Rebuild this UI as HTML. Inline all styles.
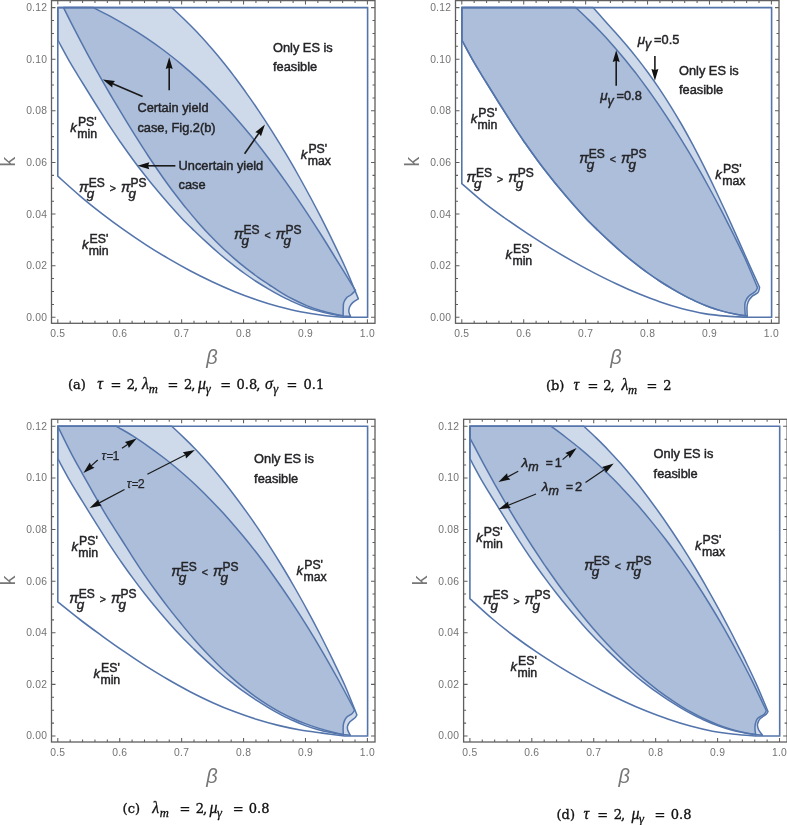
<!DOCTYPE html>
<html><head><meta charset="utf-8"><title>Figure</title><style>
html,body{margin:0;padding:0;background:#fff}
svg{display:block}
text{font-family:"Liberation Sans",sans-serif}
.tk{font-size:10.3px;fill:#737373;letter-spacing:0.25px}
.ax{fill:#777}
.lb{font-size:12.8px;fill:#242428;stroke:#242428;stroke-width:0.45px}
.sc{font-size:12.3px}
.cap{font-family:"DejaVu Serif","Liberation Serif",serif;font-size:13px;fill:#111;stroke:#111;stroke-width:0.35px}
.capi{font-family:"Liberation Serif",serif;font-style:italic;font-size:16px;fill:#111;stroke:#111;stroke-width:0.3px}
.rg{fill:#5e81b5;fill-opacity:0.3;stroke:#5475ac;stroke-width:1.5;stroke-linejoin:round}
.ol{fill:none;stroke:#5475ac;stroke-width:1.6;stroke-linejoin:miter}
</style></head>
<body><svg width="787" height="825" viewBox="0 0 787 825">
<rect width="787" height="825" fill="#fff"/>
<g><path d="M171.8,7.6 C173.9,9.6 180.1,15.3 184.2,19.3 C188.4,23.4 192.5,27.5 196.7,31.8 C200.8,36.2 205.0,40.7 209.1,45.5 C213.3,50.2 217.4,55.1 221.6,60.2 C225.7,65.4 229.9,70.6 234.0,76.1 C238.1,81.6 242.3,87.2 246.4,93.1 C250.6,98.9 254.7,104.9 258.9,111.1 C263.0,117.2 267.2,123.6 271.3,130.1 C275.5,136.7 279.6,143.4 283.8,150.3 C287.9,157.2 292.1,164.2 296.2,171.5 C300.3,178.8 304.5,186.3 308.6,194.0 C312.8,201.6 316.9,209.5 321.1,217.6 C325.2,225.7 329.4,234.0 333.5,242.6 C337.7,251.2 341.8,259.6 346.0,269.0 C350.1,278.4 356.3,293.8 358.4,298.8 C357.4,299.4 354.2,301.2 352.7,302.6 C351.2,304.0 350.2,305.4 349.6,307.0 C349.0,308.6 348.7,310.4 348.9,312.0 C349.1,313.6 350.3,315.8 350.6,316.5 L343.2,315.9 C341.1,315.6 334.9,314.7 330.8,313.9 C326.7,313.1 322.5,312.2 318.4,311.1 C314.2,310.0 310.1,308.7 306.0,307.2 C301.8,305.7 297.7,304.0 293.6,302.1 C289.4,300.3 285.3,298.2 281.2,296.1 C277.0,293.9 272.9,291.6 268.7,289.1 C264.6,286.7 260.5,284.2 256.3,281.5 C252.2,278.8 248.1,276.0 243.9,273.0 C239.8,270.1 235.7,266.9 231.5,263.7 C227.4,260.5 223.2,257.1 219.1,253.5 C215.0,250.0 210.8,246.2 206.7,242.4 C202.6,238.6 198.4,234.7 194.3,230.7 C190.2,226.7 186.0,222.7 181.9,218.4 C177.8,214.0 173.6,209.4 169.5,204.7 C165.3,200.1 161.2,195.2 157.1,190.3 C152.9,185.3 148.8,180.3 144.7,175.0 C140.5,169.7 136.4,164.4 132.3,158.7 C128.1,153.1 124.0,147.2 119.8,141.2 C115.7,135.2 111.6,129.0 107.4,122.6 C103.3,116.2 99.2,109.6 95.0,103.0 C90.9,96.4 86.8,89.8 82.6,83.0 C78.5,76.3 74.3,69.8 70.2,62.7 C66.1,55.5 59.9,43.8 57.8,40.0 L57.8,7.6 Z" class="rg"/>
<path d="M93.4,7.6 C96.3,9.1 105.0,13.5 110.9,16.6 C116.7,19.8 122.5,23.1 128.3,26.7 C134.2,30.2 140.0,33.8 145.8,37.7 C151.6,41.6 157.5,45.7 163.3,50.0 C169.1,54.4 174.9,58.9 180.8,63.8 C186.6,68.6 192.4,73.7 198.2,79.1 C204.1,84.5 209.9,90.2 215.7,96.2 C221.5,102.1 227.4,108.4 233.2,114.9 C239.0,121.5 244.8,128.3 250.7,135.4 C256.5,142.6 262.3,150.0 268.1,157.7 C274.0,165.4 279.8,173.4 285.6,181.6 C291.4,189.8 297.3,198.3 303.1,207.1 C308.9,215.8 314.7,224.8 320.6,234.0 C326.4,243.1 332.2,252.7 338.0,262.1 C343.9,271.5 352.6,285.8 355.5,290.5 C354.7,291.2 352.3,293.8 350.8,295.0 C349.3,296.2 347.6,296.6 346.4,298.0 C345.2,299.4 344.1,301.1 343.6,303.2 C343.1,305.3 343.3,308.7 343.2,310.8 C343.1,312.9 343.2,315.1 343.2,316.0 L343.2,316.0 C341.2,315.5 335.1,314.3 331.0,313.3 C327.0,312.3 322.9,311.3 318.9,310.0 C314.8,308.7 310.8,307.2 306.7,305.6 C302.7,303.9 298.6,302.1 294.6,300.0 C290.5,298.0 286.4,295.8 282.4,293.3 C278.3,290.9 274.3,288.2 270.2,285.5 C266.2,282.8 262.1,280.2 258.1,277.3 C254.0,274.4 250.0,271.4 245.9,268.2 C241.9,265.0 237.8,261.6 233.8,258.1 C229.7,254.5 225.6,250.9 221.6,247.0 C217.5,243.1 213.5,239.1 209.4,234.8 C205.4,230.5 201.3,226.1 197.3,221.4 C193.2,216.8 189.2,211.9 185.1,206.9 C181.1,201.9 177.0,196.7 172.9,191.3 C168.9,185.9 164.8,180.3 160.8,174.5 C156.7,168.7 152.7,162.7 148.6,156.5 C144.6,150.4 140.5,144.1 136.5,137.7 C132.4,131.3 128.4,124.6 124.3,117.9 C120.3,111.3 116.2,104.5 112.1,97.6 C108.1,90.7 104.0,83.7 100.0,76.6 C95.9,69.4 91.9,62.1 87.8,54.6 C83.8,47.1 79.7,39.4 75.7,31.6 C71.6,23.8 65.5,11.6 63.5,7.6 Z" class="rg"/>
<path d="M57.8,7.6 H367.59999999999997 V317.3 L344.5,317.3 C340.8,317.0 329.8,316.2 322.4,315.2 C315.1,314.3 307.7,313.2 300.4,311.7 C293.0,310.3 285.7,308.5 278.3,306.5 C271.0,304.5 263.6,302.2 256.3,299.7 C248.9,297.1 241.6,294.4 234.2,291.4 C226.9,288.4 219.5,285.1 212.2,281.7 C204.8,278.2 197.5,274.6 190.1,270.7 C182.8,266.8 175.4,262.7 168.1,258.4 C160.7,254.1 153.4,249.6 146.0,244.8 C138.7,240.1 131.3,235.1 124.0,229.9 C116.6,224.7 109.3,219.3 101.9,213.6 C94.6,207.9 87.2,202.1 79.9,195.8 C72.5,189.6 61.5,179.5 57.8,176.2 Z" class="ol"/>
<rect x="51.5" y="0.6" width="323.5" height="322.7" fill="none" stroke="#5f5f5f" stroke-width="1.3"/>
<path d="M57.80,323.3v-4.0M57.80,0.6v4.0M70.18,323.3v-2.5M70.18,0.6v2.5M82.57,323.3v-2.5M82.57,0.6v2.5M94.95,323.3v-2.5M94.95,0.6v2.5M107.34,323.3v-2.5M107.34,0.6v2.5M119.72,323.3v-4.0M119.72,0.6v4.0M132.10,323.3v-2.5M132.10,0.6v2.5M144.49,323.3v-2.5M144.49,0.6v2.5M156.87,323.3v-2.5M156.87,0.6v2.5M169.26,323.3v-2.5M169.26,0.6v2.5M181.64,323.3v-4.0M181.64,0.6v4.0M194.02,323.3v-2.5M194.02,0.6v2.5M206.41,323.3v-2.5M206.41,0.6v2.5M218.79,323.3v-2.5M218.79,0.6v2.5M231.18,323.3v-2.5M231.18,0.6v2.5M243.56,323.3v-4.0M243.56,0.6v4.0M255.94,323.3v-2.5M255.94,0.6v2.5M268.33,323.3v-2.5M268.33,0.6v2.5M280.71,323.3v-2.5M280.71,0.6v2.5M293.10,323.3v-2.5M293.10,0.6v2.5M305.48,323.3v-4.0M305.48,0.6v4.0M317.86,323.3v-2.5M317.86,0.6v2.5M330.25,323.3v-2.5M330.25,0.6v2.5M342.63,323.3v-2.5M342.63,0.6v2.5M355.02,323.3v-2.5M355.02,0.6v2.5M367.40,323.3v-4.0M367.40,0.6v4.0M51.5,7.60h4.0M375.0,7.60h-4.0M51.5,20.50h2.5M375.0,20.50h-2.5M51.5,33.41h2.5M375.0,33.41h-2.5M51.5,46.31h2.5M375.0,46.31h-2.5M51.5,59.22h4.0M375.0,59.22h-4.0M51.5,72.12h2.5M375.0,72.12h-2.5M51.5,85.02h2.5M375.0,85.02h-2.5M51.5,97.93h2.5M375.0,97.93h-2.5M51.5,110.83h4.0M375.0,110.83h-4.0M51.5,123.74h2.5M375.0,123.74h-2.5M51.5,136.64h2.5M375.0,136.64h-2.5M51.5,149.55h2.5M375.0,149.55h-2.5M51.5,162.45h4.0M375.0,162.45h-4.0M51.5,175.35h2.5M375.0,175.35h-2.5M51.5,188.26h2.5M375.0,188.26h-2.5M51.5,201.16h2.5M375.0,201.16h-2.5M51.5,214.07h4.0M375.0,214.07h-4.0M51.5,226.97h2.5M375.0,226.97h-2.5M51.5,239.88h2.5M375.0,239.88h-2.5M51.5,252.78h2.5M375.0,252.78h-2.5M51.5,265.68h4.0M375.0,265.68h-4.0M51.5,278.59h2.5M375.0,278.59h-2.5M51.5,291.49h2.5M375.0,291.49h-2.5M51.5,304.40h2.5M375.0,304.40h-2.5M51.5,317.30h4.0M375.0,317.30h-4.0" stroke="#5f5f5f" stroke-width="1.05" fill="none"/>
<text x="57.8" y="336.90000000000003" class="tk" text-anchor="middle">0.5</text>
<text x="119.7" y="336.90000000000003" class="tk" text-anchor="middle">0.6</text>
<text x="181.6" y="336.90000000000003" class="tk" text-anchor="middle">0.7</text>
<text x="243.6" y="336.90000000000003" class="tk" text-anchor="middle">0.8</text>
<text x="305.5" y="336.90000000000003" class="tk" text-anchor="middle">0.9</text>
<text x="367.4" y="336.90000000000003" class="tk" text-anchor="middle">1.0</text>
<text x="47.2" y="320.8" class="tk" text-anchor="end">0.00</text>
<text x="47.2" y="269.2" class="tk" text-anchor="end">0.02</text>
<text x="47.2" y="217.6" class="tk" text-anchor="end">0.04</text>
<text x="47.2" y="166.0" class="tk" text-anchor="end">0.06</text>
<text x="47.2" y="114.3" class="tk" text-anchor="end">0.08</text>
<text x="47.2" y="62.7" class="tk" text-anchor="end">0.10</text>
<text x="47.2" y="11.1" class="tk" text-anchor="end">0.12</text>
<text transform="translate(14.9,161.7) rotate(-90)" class="ax" text-anchor="middle" style="font-size:19.5px">k</text>
<text x="212" y="364.4" class="ax" text-anchor="middle" style="font-size:20px" font-style="italic">β</text>
<text x="273" y="51.6" class="lb" >Only ES is</text><text x="273" y="71" class="lb" >feasible</text>
<text x="137.4" y="112.3" class="lb" >Certain yield</text><text x="137.4" y="131.5" class="lb" >case, Fig.2(b)</text>
<text x="178.6" y="169.5" class="lb" >Uncertain yield</text><text x="178.6" y="189.1" class="lb" >case</text>
<text x="70.3" y="131.7" class="lb" font-style="italic" style="font-size:13px">k</text><text x="77.9" y="125.6" class="lb sc">PS'</text><text x="77.2" y="137.6" class="lb sc">min</text>
<text x="81.9" y="248.9" class="lb" font-style="italic" style="font-size:13px">k</text><text x="89.5" y="242.8" class="lb sc">ES'</text><text x="88.8" y="254.8" class="lb sc">min</text>
<text x="300.8" y="159.3" class="lb" font-style="italic" style="font-size:13px">k</text><text x="308.4" y="153.2" class="lb sc">PS'</text><text x="307.7" y="165.2" class="lb sc">max</text>
<text x="79.1" y="191.9" class="lb" font-style="italic" style="font-size:14px">π</text><text x="88.7" y="186.9" class="lb" style="font-size:12px">ES</text><text x="86.7" y="197.9" class="lb" font-style="italic" style="font-size:13.5px">g</text><text x="109.7" y="192.1" class="lb" style="font-size:10.5px">&gt;</text><text x="120.89999999999999" y="191.9" class="lb" font-style="italic" style="font-size:14px">π</text><text x="130.5" y="186.9" class="lb" style="font-size:12px">PS</text><text x="128.5" y="197.9" class="lb" font-style="italic" style="font-size:13.5px">g</text>
<text x="234" y="238.6" class="lb" font-style="italic" style="font-size:14px">π</text><text x="243.6" y="233.6" class="lb" style="font-size:12px">ES</text><text x="241.6" y="244.6" class="lb" font-style="italic" style="font-size:13.5px">g</text><text x="264.6" y="238.8" class="lb" style="font-size:10.5px">&lt;</text><text x="275.8" y="238.6" class="lb" font-style="italic" style="font-size:14px">π</text><text x="285.4" y="233.6" class="lb" style="font-size:12px">PS</text><text x="283.4" y="244.6" class="lb" font-style="italic" style="font-size:13.5px">g</text>
<line x1="169.2" y1="90.2" x2="169.2" y2="65.5" stroke="#1a1a1a" stroke-width="1.6"/><path d="M169.2,57.2 L172.7,69.0 L169.2,67.8 L165.7,69.0 Z" fill="#111"/>
<line x1="142.6" y1="96.5" x2="110.4" y2="82.7" stroke="#1a1a1a" stroke-width="1.6"/><path d="M102.8,79.5 L115.0,80.9 L112.6,83.7 L112.3,87.4 Z" fill="#111"/>
<line x1="175.4" y1="165.8" x2="145.8" y2="165.8" stroke="#1a1a1a" stroke-width="1.6"/><path d="M137.5,165.8 L149.3,162.3 L148.1,165.8 L149.3,169.3 Z" fill="#111"/>
<line x1="244.6" y1="153.7" x2="260.2" y2="131.3" stroke="#1a1a1a" stroke-width="1.6"/><path d="M264.9,124.5 L261.0,136.2 L258.8,133.2 L255.3,132.2 Z" fill="#111"/>
<text x="67.9" y="389.2" class="cap">(a)</text><text x="97.2" y="389.2" class="capi">τ</text><text x="110.6" y="389.2" class="cap">=</text><text x="126.8" y="389.2" class="cap">2</text><text x="134.1" y="389.2" class="cap">,</text><text x="141.9" y="389.2" class="capi">λ</text><text x="148.7" y="392.8" class="capi" style="font-size:12.6px">m</text><text x="167.5" y="389.2" class="cap">=</text><text x="183.9" y="389.2" class="cap">2</text><text x="191.2" y="389.2" class="cap">,</text><text x="198.0" y="389.2" class="capi">μ</text><text x="205.7" y="392.8" class="capi" style="font-size:12.6px">γ</text><text x="220.3" y="389.2" class="cap">=</text><text x="236.5" y="389.2" class="cap">0.8</text><text x="256.2" y="389.2" class="cap">,</text><text x="265.0" y="389.2" class="capi">σ</text><text x="273.2" y="392.8" class="capi" style="font-size:12.6px">γ</text><text x="286.4" y="389.2" class="cap">=</text><text x="303.5" y="389.2" class="cap">0.1</text></g>
<g transform="translate(404,0)"><path d="M189.0,7.6 C190.9,9.7 196.4,15.8 200.1,19.9 C203.8,24.0 207.5,28.1 211.2,32.3 C214.9,36.5 218.6,40.7 222.3,45.1 C226.0,49.5 229.7,54.0 233.4,58.6 C237.1,63.3 240.8,68.2 244.5,73.2 C248.2,78.3 251.9,83.6 255.6,89.1 C259.3,94.6 263.0,100.3 266.7,106.3 C270.4,112.3 274.2,118.6 277.9,125.0 C281.6,131.5 285.3,138.2 289.0,145.2 C292.7,152.1 296.4,159.3 300.1,166.7 C303.8,174.1 307.5,181.8 311.2,189.5 C314.9,197.3 318.6,205.3 322.3,213.3 C326.0,221.4 329.7,229.7 333.4,237.9 C337.1,246.2 340.8,254.7 344.5,262.9 C348.2,271.1 353.7,283.2 355.6,287.3 C355.3,288.2 355.3,291.1 354.0,292.6 C352.7,294.1 349.6,294.8 348.0,296.4 C346.4,298.0 344.9,300.1 344.1,302.0 C343.3,303.9 343.1,305.1 343.0,307.5 C342.9,309.9 343.2,314.8 343.3,316.3 L343.2,315.9 C341.1,315.6 334.9,314.7 330.8,313.9 C326.7,313.1 322.5,312.2 318.4,311.1 C314.2,310.0 310.1,308.7 306.0,307.2 C301.8,305.7 297.7,304.0 293.6,302.1 C289.4,300.3 285.3,298.2 281.2,296.1 C277.0,293.9 272.9,291.6 268.7,289.1 C264.6,286.7 260.5,284.2 256.3,281.5 C252.2,278.8 248.1,276.0 243.9,273.0 C239.8,270.1 235.7,266.9 231.5,263.7 C227.4,260.5 223.2,257.1 219.1,253.5 C215.0,250.0 210.8,246.2 206.7,242.4 C202.6,238.6 198.4,234.7 194.3,230.7 C190.2,226.7 186.0,222.7 181.9,218.4 C177.8,214.0 173.6,209.4 169.5,204.7 C165.3,200.1 161.2,195.2 157.1,190.3 C152.9,185.3 148.8,180.3 144.7,175.0 C140.5,169.7 136.4,164.4 132.3,158.7 C128.1,153.1 124.0,147.2 119.8,141.2 C115.7,135.2 111.6,129.0 107.4,122.6 C103.3,116.2 99.2,109.6 95.0,103.0 C90.9,96.4 86.8,89.8 82.6,83.0 C78.5,76.3 74.3,69.8 70.2,62.7 C66.1,55.5 59.9,43.8 57.8,40.0 L57.8,7.6 Z" class="rg"/>
<path d="M171.8,7.6 C173.8,9.5 179.9,15.1 183.9,19.1 C188.0,23.0 192.0,27.0 196.0,31.2 C200.1,35.4 204.1,39.8 208.1,44.4 C212.2,49.0 216.2,53.7 220.3,58.7 C224.3,63.6 228.3,68.7 232.4,73.9 C236.4,79.2 240.4,84.6 244.5,90.2 C248.5,95.9 252.6,101.6 256.6,107.6 C260.6,113.5 264.7,119.7 268.7,126.0 C272.7,132.3 276.8,138.7 280.8,145.4 C284.9,152.0 288.9,158.9 292.9,165.9 C297.0,172.9 301.0,180.1 305.0,187.5 C309.1,194.9 313.1,202.4 317.2,210.2 C321.2,218.0 325.2,225.9 329.3,234.1 C333.3,242.2 337.3,250.2 341.4,259.2 C345.4,268.1 351.5,282.9 353.5,287.6 C353.1,288.2 352.8,290.0 351.3,291.5 C349.8,293.0 346.3,294.6 344.6,296.4 C342.9,298.1 341.9,300.1 341.3,302.0 C340.7,303.9 340.8,305.2 340.8,307.5 C340.8,309.8 341.2,314.4 341.3,315.8 L343.2,315.9 C341.1,315.6 334.9,314.7 330.8,313.9 C326.7,313.1 322.5,312.2 318.4,311.1 C314.2,310.0 310.1,308.7 306.0,307.2 C301.8,305.7 297.7,304.0 293.6,302.1 C289.4,300.3 285.3,298.2 281.2,296.1 C277.0,293.9 272.9,291.6 268.7,289.1 C264.6,286.7 260.5,284.2 256.3,281.5 C252.2,278.8 248.1,276.0 243.9,273.0 C239.8,270.1 235.7,266.9 231.5,263.7 C227.4,260.5 223.2,257.1 219.1,253.5 C215.0,250.0 210.8,246.2 206.7,242.4 C202.6,238.6 198.4,234.7 194.3,230.7 C190.2,226.7 186.0,222.7 181.9,218.4 C177.8,214.0 173.6,209.4 169.5,204.7 C165.3,200.1 161.2,195.2 157.1,190.3 C152.9,185.3 148.8,180.3 144.7,175.0 C140.5,169.7 136.4,164.4 132.3,158.7 C128.1,153.1 124.0,147.2 119.8,141.2 C115.7,135.2 111.6,129.0 107.4,122.6 C103.3,116.2 99.2,109.6 95.0,103.0 C90.9,96.4 86.8,89.8 82.6,83.0 C78.5,76.3 74.3,69.8 70.2,62.7 C66.1,55.5 59.9,43.8 57.8,40.0 L57.8,7.6 Z" class="rg"/>
<path d="M57.8,7.6 H367.59999999999997 V317.3 L344.5,317.3 C340.8,317.1 329.8,316.7 322.4,316.1 C315.1,315.5 307.7,314.8 300.4,313.6 C293.0,312.4 285.7,310.7 278.3,308.8 C271.0,306.8 263.6,304.5 256.3,302.0 C248.9,299.5 241.6,296.6 234.2,293.6 C226.9,290.6 219.5,287.3 212.2,283.8 C204.8,280.4 197.5,276.7 190.1,272.9 C182.8,269.1 175.4,265.1 168.1,260.9 C160.7,256.7 153.4,252.4 146.0,247.9 C138.7,243.4 131.3,238.7 124.0,233.9 C116.6,229.0 109.3,224.0 101.9,218.8 C94.6,213.6 87.2,208.4 79.9,202.6 C72.5,196.7 61.5,186.8 57.8,183.6 Z" class="ol"/>
<rect x="51.5" y="0.6" width="323.5" height="322.7" fill="none" stroke="#5f5f5f" stroke-width="1.3"/>
<path d="M57.80,323.3v-4.0M57.80,0.6v4.0M70.18,323.3v-2.5M70.18,0.6v2.5M82.57,323.3v-2.5M82.57,0.6v2.5M94.95,323.3v-2.5M94.95,0.6v2.5M107.34,323.3v-2.5M107.34,0.6v2.5M119.72,323.3v-4.0M119.72,0.6v4.0M132.10,323.3v-2.5M132.10,0.6v2.5M144.49,323.3v-2.5M144.49,0.6v2.5M156.87,323.3v-2.5M156.87,0.6v2.5M169.26,323.3v-2.5M169.26,0.6v2.5M181.64,323.3v-4.0M181.64,0.6v4.0M194.02,323.3v-2.5M194.02,0.6v2.5M206.41,323.3v-2.5M206.41,0.6v2.5M218.79,323.3v-2.5M218.79,0.6v2.5M231.18,323.3v-2.5M231.18,0.6v2.5M243.56,323.3v-4.0M243.56,0.6v4.0M255.94,323.3v-2.5M255.94,0.6v2.5M268.33,323.3v-2.5M268.33,0.6v2.5M280.71,323.3v-2.5M280.71,0.6v2.5M293.10,323.3v-2.5M293.10,0.6v2.5M305.48,323.3v-4.0M305.48,0.6v4.0M317.86,323.3v-2.5M317.86,0.6v2.5M330.25,323.3v-2.5M330.25,0.6v2.5M342.63,323.3v-2.5M342.63,0.6v2.5M355.02,323.3v-2.5M355.02,0.6v2.5M367.40,323.3v-4.0M367.40,0.6v4.0M51.5,7.60h4.0M375.0,7.60h-4.0M51.5,20.50h2.5M375.0,20.50h-2.5M51.5,33.41h2.5M375.0,33.41h-2.5M51.5,46.31h2.5M375.0,46.31h-2.5M51.5,59.22h4.0M375.0,59.22h-4.0M51.5,72.12h2.5M375.0,72.12h-2.5M51.5,85.02h2.5M375.0,85.02h-2.5M51.5,97.93h2.5M375.0,97.93h-2.5M51.5,110.83h4.0M375.0,110.83h-4.0M51.5,123.74h2.5M375.0,123.74h-2.5M51.5,136.64h2.5M375.0,136.64h-2.5M51.5,149.55h2.5M375.0,149.55h-2.5M51.5,162.45h4.0M375.0,162.45h-4.0M51.5,175.35h2.5M375.0,175.35h-2.5M51.5,188.26h2.5M375.0,188.26h-2.5M51.5,201.16h2.5M375.0,201.16h-2.5M51.5,214.07h4.0M375.0,214.07h-4.0M51.5,226.97h2.5M375.0,226.97h-2.5M51.5,239.88h2.5M375.0,239.88h-2.5M51.5,252.78h2.5M375.0,252.78h-2.5M51.5,265.68h4.0M375.0,265.68h-4.0M51.5,278.59h2.5M375.0,278.59h-2.5M51.5,291.49h2.5M375.0,291.49h-2.5M51.5,304.40h2.5M375.0,304.40h-2.5M51.5,317.30h4.0M375.0,317.30h-4.0" stroke="#5f5f5f" stroke-width="1.05" fill="none"/>
<text x="57.8" y="336.90000000000003" class="tk" text-anchor="middle">0.5</text>
<text x="119.7" y="336.90000000000003" class="tk" text-anchor="middle">0.6</text>
<text x="181.6" y="336.90000000000003" class="tk" text-anchor="middle">0.7</text>
<text x="243.6" y="336.90000000000003" class="tk" text-anchor="middle">0.8</text>
<text x="305.5" y="336.90000000000003" class="tk" text-anchor="middle">0.9</text>
<text x="367.4" y="336.90000000000003" class="tk" text-anchor="middle">1.0</text>
<text x="47.2" y="320.8" class="tk" text-anchor="end">0.00</text>
<text x="47.2" y="269.2" class="tk" text-anchor="end">0.02</text>
<text x="47.2" y="217.6" class="tk" text-anchor="end">0.04</text>
<text x="47.2" y="166.0" class="tk" text-anchor="end">0.06</text>
<text x="47.2" y="114.3" class="tk" text-anchor="end">0.08</text>
<text x="47.2" y="62.7" class="tk" text-anchor="end">0.10</text>
<text x="47.2" y="11.1" class="tk" text-anchor="end">0.12</text>
<text transform="translate(14.9,161.7) rotate(-90)" class="ax" text-anchor="middle" style="font-size:19.5px">k</text>
<text x="212" y="364.4" class="ax" text-anchor="middle" style="font-size:20px" font-style="italic">β</text>
<text x="275" y="74.5" class="lb" >Only ES is</text><text x="275" y="94" class="lb" >feasible</text>
<text x="66.7" y="122.9" class="lb" font-style="italic" style="font-size:13px">k</text><text x="74.3" y="116.8" class="lb sc">PS'</text><text x="73.6" y="128.8" class="lb sc">min</text>
<text x="101.5" y="259.2" class="lb" font-style="italic" style="font-size:13px">k</text><text x="109.1" y="253.1" class="lb sc">ES'</text><text x="108.4" y="265.1" class="lb sc">min</text>
<text x="311.3" y="179.2" class="lb" font-style="italic" style="font-size:13px">k</text><text x="318.9" y="173.1" class="lb sc">PS'</text><text x="318.2" y="185.1" class="lb sc">max</text>
<text x="62.4" y="182.3" class="lb" font-style="italic" style="font-size:14px">π</text><text x="72.0" y="177.3" class="lb" style="font-size:12px">ES</text><text x="70.0" y="188.3" class="lb" font-style="italic" style="font-size:13.5px">g</text><text x="93.0" y="182.5" class="lb" style="font-size:10.5px">&gt;</text><text x="104.19999999999999" y="182.3" class="lb" font-style="italic" style="font-size:14px">π</text><text x="113.8" y="177.3" class="lb" style="font-size:12px">PS</text><text x="111.8" y="188.3" class="lb" font-style="italic" style="font-size:13.5px">g</text>
<text x="175.2" y="162.6" class="lb" font-style="italic" style="font-size:14px">π</text><text x="184.8" y="157.6" class="lb" style="font-size:12px">ES</text><text x="182.8" y="168.6" class="lb" font-style="italic" style="font-size:13.5px">g</text><text x="205.8" y="162.8" class="lb" style="font-size:10.5px">&lt;</text><text x="217.0" y="162.6" class="lb" font-style="italic" style="font-size:14px">π</text><text x="226.6" y="157.6" class="lb" style="font-size:12px">PS</text><text x="224.6" y="168.6" class="lb" font-style="italic" style="font-size:13.5px">g</text>
<text x="233.8" y="43.7" class="lb" font-style="italic" style="font-size:13.5px">μ</text><text x="241.1" y="47.9" class="lb" font-style="italic" style="font-size:12.5px">γ</text><text x="250.1" y="43.7" class="lb">=0.5</text>
<text x="196.2" y="100.4" class="lb" font-style="italic" style="font-size:13.5px">μ</text><text x="203.5" y="104.6" class="lb" font-style="italic" style="font-size:12.5px">γ</text><text x="212.5" y="100.4" class="lb">=0.8</text>
<line x1="212.2" y1="85.8" x2="212.2" y2="58.5" stroke="#1a1a1a" stroke-width="1.6"/><path d="M212.2,50.2 L215.7,62.0 L212.2,60.8 L208.7,62.0 Z" fill="#111"/>
<line x1="250.9" y1="55.9" x2="250.9" y2="72.4" stroke="#1a1a1a" stroke-width="1.6"/><path d="M250.9,80.7 L247.4,68.9 L250.9,70.1 L254.4,68.9 Z" fill="#111"/>
<text x="141.9" y="390.0" class="cap">(b)</text><text x="169.5" y="390.0" class="capi">τ</text><text x="183.5" y="390.0" class="cap">=</text><text x="199.2" y="390.0" class="cap">2</text><text x="206.5" y="390.0" class="cap">,</text><text x="217.5" y="390.0" class="capi">λ</text><text x="224.1" y="393.6" class="capi" style="font-size:12.6px">m</text><text x="242.5" y="390.0" class="cap">=</text><text x="259.2" y="390.0" class="cap">2</text></g>
<g transform="translate(0,418.7)"><path d="M171.8,7.6 C173.9,9.5 180.0,15.3 184.1,19.2 C188.3,23.2 192.4,27.3 196.5,31.6 C200.6,35.9 204.7,40.4 208.8,45.1 C212.9,49.8 217.0,54.7 221.2,59.8 C225.3,64.8 229.4,70.1 233.5,75.5 C237.6,80.9 241.7,86.5 245.8,92.2 C250.0,98.0 254.1,103.9 258.2,110.0 C262.3,116.1 266.4,122.4 270.5,128.9 C274.6,135.3 278.7,141.9 282.9,148.8 C287.0,155.6 291.1,162.6 295.2,169.8 C299.3,177.0 303.4,184.3 307.5,191.9 C311.7,199.5 315.8,207.3 319.9,215.3 C324.0,223.3 328.1,231.5 332.2,240.0 C336.3,248.5 340.4,256.7 344.6,266.1 C348.7,275.4 354.8,291.1 356.9,296.1 C356.6,296.6 356.5,297.6 355.3,298.8 C354.1,300.0 351.0,301.8 349.7,303.3 C348.4,304.8 347.8,306.3 347.5,307.7 C347.2,309.1 347.3,310.0 347.8,311.5 C348.3,313.0 349.9,315.7 350.3,316.5 L343.2,315.9 C341.1,315.6 334.9,314.7 330.8,313.9 C326.7,313.1 322.5,312.2 318.4,311.1 C314.2,310.0 310.1,308.7 306.0,307.2 C301.8,305.7 297.7,304.0 293.6,302.1 C289.4,300.3 285.3,298.2 281.2,296.1 C277.0,293.9 272.9,291.6 268.7,289.1 C264.6,286.7 260.5,284.2 256.3,281.5 C252.2,278.8 248.1,276.0 243.9,273.0 C239.8,270.1 235.7,266.9 231.5,263.7 C227.4,260.5 223.2,257.1 219.1,253.5 C215.0,250.0 210.8,246.2 206.7,242.4 C202.6,238.6 198.4,234.7 194.3,230.7 C190.2,226.7 186.0,222.7 181.9,218.4 C177.8,214.0 173.6,209.4 169.5,204.7 C165.3,200.1 161.2,195.2 157.1,190.3 C152.9,185.3 148.8,180.3 144.7,175.0 C140.5,169.7 136.4,164.4 132.3,158.7 C128.1,153.1 124.0,147.2 119.8,141.2 C115.7,135.2 111.6,129.0 107.4,122.6 C103.3,116.2 99.2,109.6 95.0,103.0 C90.9,96.4 86.8,89.8 82.6,83.0 C78.5,76.3 74.3,69.8 70.2,62.7 C66.1,55.5 59.9,43.8 57.8,40.0 L57.8,7.6 Z" class="rg"/>
<path d="M116.5,7.6 C119.1,9.2 127.1,13.6 132.4,16.9 C137.7,20.3 143.0,23.8 148.2,27.6 C153.5,31.3 158.8,35.2 164.1,39.3 C169.4,43.4 174.7,47.8 180.0,52.3 C185.3,56.8 190.6,61.6 195.9,66.5 C201.2,71.5 206.4,76.7 211.7,82.2 C217.0,87.6 222.3,93.3 227.6,99.2 C232.9,105.2 238.2,111.3 243.5,117.8 C248.8,124.2 254.1,130.9 259.4,137.8 C264.7,144.8 269.9,152.0 275.2,159.5 C280.5,166.9 285.8,174.7 291.1,182.7 C296.4,190.7 301.7,198.9 307.0,207.5 C312.3,216.0 317.6,224.8 322.9,233.9 C328.1,242.9 333.4,252.2 338.7,261.8 C344.0,271.4 352.0,286.6 354.6,291.5 C354.2,292.1 353.4,293.8 352.0,295.0 C350.6,296.2 347.8,297.2 346.4,298.8 C345.0,300.4 344.2,302.5 343.7,304.4 C343.1,306.2 343.2,307.9 343.1,309.9 C343.1,311.9 343.3,315.4 343.4,316.5 L342.3,315.8 C340.2,315.3 334.1,313.8 329.9,312.7 C325.8,311.6 321.7,310.5 317.6,309.2 C313.4,307.9 309.3,306.5 305.2,304.9 C301.1,303.4 296.9,301.7 292.8,299.8 C288.7,297.9 284.6,295.9 280.5,293.7 C276.3,291.5 272.2,289.1 268.1,286.5 C264.0,283.9 259.8,281.1 255.7,278.2 C251.6,275.2 247.5,272.1 243.3,268.7 C239.2,265.4 235.1,261.9 231.0,258.2 C226.9,254.5 222.7,250.7 218.6,246.6 C214.5,242.6 210.4,238.3 206.2,233.9 C202.1,229.5 198.0,224.9 193.9,220.2 C189.7,215.4 185.6,210.4 181.5,205.4 C177.4,200.4 173.2,195.2 169.1,189.9 C165.0,184.6 160.9,179.1 156.8,173.5 C152.6,167.9 148.5,162.2 144.4,156.2 C140.3,150.2 136.1,143.8 132.0,137.4 C127.9,131.0 123.8,124.3 119.6,117.8 C115.5,111.3 111.4,105.2 107.3,98.5 C103.2,91.7 99.0,84.4 94.9,77.2 C90.8,70.0 86.7,62.6 82.5,55.2 C78.4,47.8 74.3,40.6 70.2,32.6 C66.0,24.7 59.9,11.8 57.8,7.6 Z" class="rg"/>
<path d="M57.8,7.6 H367.59999999999997 V317.3 L344.5,317.3 C340.8,316.8 329.8,315.4 322.4,314.4 C315.1,313.4 307.7,312.6 300.4,311.3 C293.0,310.0 285.7,308.5 278.3,306.7 C271.0,304.9 263.6,302.9 256.3,300.6 C248.9,298.3 241.6,295.7 234.2,292.9 C226.9,290.1 219.5,287.0 212.2,283.7 C204.8,280.4 197.5,276.8 190.1,273.0 C182.8,269.1 175.4,265.1 168.1,260.8 C160.7,256.5 153.4,252.0 146.0,247.4 C138.7,242.7 131.3,237.8 124.0,232.7 C116.6,227.7 109.3,222.5 101.9,217.1 C94.6,211.8 87.2,206.5 79.9,200.8 C72.5,195.1 61.5,186.1 57.8,183.2 Z" class="ol"/>
<rect x="51.5" y="0.6" width="323.5" height="322.7" fill="none" stroke="#5f5f5f" stroke-width="1.3"/>
<path d="M57.80,323.3v-4.0M57.80,0.6v4.0M70.18,323.3v-2.5M70.18,0.6v2.5M82.57,323.3v-2.5M82.57,0.6v2.5M94.95,323.3v-2.5M94.95,0.6v2.5M107.34,323.3v-2.5M107.34,0.6v2.5M119.72,323.3v-4.0M119.72,0.6v4.0M132.10,323.3v-2.5M132.10,0.6v2.5M144.49,323.3v-2.5M144.49,0.6v2.5M156.87,323.3v-2.5M156.87,0.6v2.5M169.26,323.3v-2.5M169.26,0.6v2.5M181.64,323.3v-4.0M181.64,0.6v4.0M194.02,323.3v-2.5M194.02,0.6v2.5M206.41,323.3v-2.5M206.41,0.6v2.5M218.79,323.3v-2.5M218.79,0.6v2.5M231.18,323.3v-2.5M231.18,0.6v2.5M243.56,323.3v-4.0M243.56,0.6v4.0M255.94,323.3v-2.5M255.94,0.6v2.5M268.33,323.3v-2.5M268.33,0.6v2.5M280.71,323.3v-2.5M280.71,0.6v2.5M293.10,323.3v-2.5M293.10,0.6v2.5M305.48,323.3v-4.0M305.48,0.6v4.0M317.86,323.3v-2.5M317.86,0.6v2.5M330.25,323.3v-2.5M330.25,0.6v2.5M342.63,323.3v-2.5M342.63,0.6v2.5M355.02,323.3v-2.5M355.02,0.6v2.5M367.40,323.3v-4.0M367.40,0.6v4.0M51.5,7.60h4.0M375.0,7.60h-4.0M51.5,20.50h2.5M375.0,20.50h-2.5M51.5,33.41h2.5M375.0,33.41h-2.5M51.5,46.31h2.5M375.0,46.31h-2.5M51.5,59.22h4.0M375.0,59.22h-4.0M51.5,72.12h2.5M375.0,72.12h-2.5M51.5,85.02h2.5M375.0,85.02h-2.5M51.5,97.93h2.5M375.0,97.93h-2.5M51.5,110.83h4.0M375.0,110.83h-4.0M51.5,123.74h2.5M375.0,123.74h-2.5M51.5,136.64h2.5M375.0,136.64h-2.5M51.5,149.55h2.5M375.0,149.55h-2.5M51.5,162.45h4.0M375.0,162.45h-4.0M51.5,175.35h2.5M375.0,175.35h-2.5M51.5,188.26h2.5M375.0,188.26h-2.5M51.5,201.16h2.5M375.0,201.16h-2.5M51.5,214.07h4.0M375.0,214.07h-4.0M51.5,226.97h2.5M375.0,226.97h-2.5M51.5,239.88h2.5M375.0,239.88h-2.5M51.5,252.78h2.5M375.0,252.78h-2.5M51.5,265.68h4.0M375.0,265.68h-4.0M51.5,278.59h2.5M375.0,278.59h-2.5M51.5,291.49h2.5M375.0,291.49h-2.5M51.5,304.40h2.5M375.0,304.40h-2.5M51.5,317.30h4.0M375.0,317.30h-4.0" stroke="#5f5f5f" stroke-width="1.05" fill="none"/>
<text x="57.8" y="336.90000000000003" class="tk" text-anchor="middle">0.5</text>
<text x="119.7" y="336.90000000000003" class="tk" text-anchor="middle">0.6</text>
<text x="181.6" y="336.90000000000003" class="tk" text-anchor="middle">0.7</text>
<text x="243.6" y="336.90000000000003" class="tk" text-anchor="middle">0.8</text>
<text x="305.5" y="336.90000000000003" class="tk" text-anchor="middle">0.9</text>
<text x="367.4" y="336.90000000000003" class="tk" text-anchor="middle">1.0</text>
<text x="47.2" y="320.8" class="tk" text-anchor="end">0.00</text>
<text x="47.2" y="269.2" class="tk" text-anchor="end">0.02</text>
<text x="47.2" y="217.6" class="tk" text-anchor="end">0.04</text>
<text x="47.2" y="166.0" class="tk" text-anchor="end">0.06</text>
<text x="47.2" y="114.3" class="tk" text-anchor="end">0.08</text>
<text x="47.2" y="62.7" class="tk" text-anchor="end">0.10</text>
<text x="47.2" y="11.1" class="tk" text-anchor="end">0.12</text>
<text transform="translate(14.9,161.7) rotate(-90)" class="ax" text-anchor="middle" style="font-size:19.5px">k</text>
<text x="212" y="364.4" class="ax" text-anchor="middle" style="font-size:20px" font-style="italic">β</text>
<text x="254.1" y="44.69999999999999" class="lb" >Only ES is</text><text x="254.1" y="64.5" class="lb" >feasible</text>
<text x="71.4" y="132.50000000000006" class="lb" font-style="italic" style="font-size:13px">k</text><text x="79.0" y="126.4" class="lb sc">PS'</text><text x="78.3" y="138.4" class="lb sc">min</text>
<text x="93.5" y="259.50000000000006" class="lb" font-style="italic" style="font-size:13px">k</text><text x="101.1" y="253.4" class="lb sc">ES'</text><text x="100.4" y="265.4" class="lb sc">min</text>
<text x="296.6" y="156.00000000000006" class="lb" font-style="italic" style="font-size:13px">k</text><text x="304.2" y="149.9" class="lb sc">PS'</text><text x="303.5" y="161.9" class="lb sc">max</text>
<text x="69.2" y="184.09999999999997" class="lb" font-style="italic" style="font-size:14px">π</text><text x="78.8" y="179.1" class="lb" style="font-size:12px">ES</text><text x="76.8" y="190.1" class="lb" font-style="italic" style="font-size:13.5px">g</text><text x="99.8" y="184.3" class="lb" style="font-size:10.5px">&gt;</text><text x="111.0" y="184.09999999999997" class="lb" font-style="italic" style="font-size:14px">π</text><text x="120.6" y="179.1" class="lb" style="font-size:12px">PS</text><text x="118.6" y="190.1" class="lb" font-style="italic" style="font-size:13.5px">g</text>
<text x="171.2" y="156.90000000000003" class="lb" font-style="italic" style="font-size:14px">π</text><text x="180.8" y="151.9" class="lb" style="font-size:12px">ES</text><text x="178.8" y="162.9" class="lb" font-style="italic" style="font-size:13.5px">g</text><text x="201.8" y="157.1" class="lb" style="font-size:10.5px">&lt;</text><text x="213.0" y="156.90000000000003" class="lb" font-style="italic" style="font-size:14px">π</text><text x="222.6" y="151.9" class="lb" style="font-size:12px">PS</text><text x="220.6" y="162.9" class="lb" font-style="italic" style="font-size:13.5px">g</text>
<text x="101.6" y="40.900000000000034" class="lb" font-style="italic" style="font-size:12px;stroke-width:0.25px">τ</text><text x="106.6" y="40.900000000000034" class="lb" style="font-size:11.5px;stroke-width:0.25px">=</text><text x="112.6" y="40.900000000000034" class="lb" style="font-size:12.5px;stroke-width:0.25px">1</text>
<text x="126.8" y="69.69999999999999" class="lb" font-style="italic" style="font-size:12px;stroke-width:0.25px">τ</text><text x="131.8" y="69.69999999999999" class="lb" style="font-size:11.5px;stroke-width:0.25px">=</text><text x="137.8" y="69.69999999999999" class="lb" style="font-size:12.5px;stroke-width:0.25px">2</text>
<line x1="97.7" y1="41.3" x2="89.5" y2="48.7" stroke="#1a1a1a" stroke-width="1.2"/><path d="M83.4,54.3 L89.8,43.8 L91.3,47.2 L94.5,49.0 Z" fill="#111"/>
<line x1="122.0" y1="29.6" x2="129.8" y2="24.3" stroke="#1a1a1a" stroke-width="1.2"/><path d="M136.6,19.7 L128.8,29.2 L127.8,25.7 L124.9,23.4 Z" fill="#111"/>
<line x1="124.5" y1="70.8" x2="96.9" y2="85.4" stroke="#1a1a1a" stroke-width="1.2"/><path d="M89.6,89.3 L98.4,80.7 L99.0,84.3 L101.7,86.9 Z" fill="#111"/>
<line x1="147.4" y1="55.6" x2="187.5" y2="35.1" stroke="#1a1a1a" stroke-width="1.2"/><path d="M194.9,31.3 L186.0,39.8 L185.4,36.1 L182.8,33.6 Z" fill="#111"/>
<text x="122.6" y="394.5" class="cap">(c)</text><text x="152.3" y="394.5" class="capi">λ</text><text x="159.7" y="398.1" class="capi" style="font-size:12.6px">m</text><text x="179.4" y="394.5" class="cap">=</text><text x="195.8" y="394.5" class="cap">2</text><text x="203.1" y="394.5" class="cap">,</text><text x="209.5" y="394.5" class="capi">μ</text><text x="217.0" y="398.1" class="capi" style="font-size:12.6px">γ</text><text x="232.7" y="394.5" class="cap">=</text><text x="248.8" y="394.5" class="cap">0.8</text></g>
<g transform="translate(412.1,418.7)"><path d="M171.8,7.6 C173.8,9.5 180.0,15.2 184.1,19.2 C188.2,23.2 192.3,27.2 196.3,31.5 C200.4,35.8 204.5,40.3 208.6,44.9 C212.7,49.6 216.8,54.4 220.9,59.4 C225.0,64.4 229.1,69.6 233.2,75.0 C237.3,80.4 241.3,85.9 245.4,91.6 C249.5,97.3 253.6,103.2 257.7,109.3 C261.8,115.3 265.9,121.6 270.0,128.0 C274.1,134.4 278.2,141.0 282.3,147.8 C286.4,154.5 290.4,161.5 294.5,168.6 C298.6,175.8 302.7,183.1 306.8,190.6 C310.9,198.2 315.0,205.9 319.1,213.8 C323.2,221.8 327.3,229.9 331.4,238.2 C335.4,246.6 339.5,254.8 343.6,263.9 C347.7,273.0 353.9,288.0 355.9,292.8 C355.6,293.2 355.5,294.3 354.2,295.5 C352.9,296.7 349.6,298.2 348.1,299.9 C346.6,301.6 345.7,303.6 345.4,305.5 C345.1,307.4 345.7,309.2 346.5,311.0 C347.3,312.8 349.8,315.6 350.4,316.5 L343.2,315.9 C341.1,315.6 334.9,314.7 330.8,313.9 C326.7,313.1 322.5,312.2 318.4,311.1 C314.2,310.0 310.1,308.7 306.0,307.2 C301.8,305.7 297.7,304.0 293.6,302.1 C289.4,300.3 285.3,298.2 281.2,296.1 C277.0,293.9 272.9,291.6 268.7,289.1 C264.6,286.7 260.5,284.2 256.3,281.5 C252.2,278.8 248.1,276.0 243.9,273.0 C239.8,270.1 235.7,266.9 231.5,263.7 C227.4,260.5 223.2,257.1 219.1,253.5 C215.0,250.0 210.8,246.2 206.7,242.4 C202.6,238.6 198.4,234.7 194.3,230.7 C190.2,226.7 186.0,222.7 181.9,218.4 C177.8,214.0 173.6,209.4 169.5,204.7 C165.3,200.1 161.2,195.2 157.1,190.3 C152.9,185.3 148.8,180.3 144.7,175.0 C140.5,169.7 136.4,164.4 132.3,158.7 C128.1,153.1 124.0,147.2 119.8,141.2 C115.7,135.2 111.6,129.0 107.4,122.6 C103.3,116.2 99.2,109.6 95.0,103.0 C90.9,96.4 86.8,89.8 82.6,83.0 C78.5,76.3 74.3,69.8 70.2,62.7 C66.1,55.5 59.9,43.8 57.8,40.0 L57.8,7.6 Z" class="rg"/>
<path d="M139.0,7.6 C141.4,9.4 148.6,14.6 153.3,18.3 C158.1,22.0 162.9,25.7 167.7,29.7 C172.5,33.7 177.3,37.8 182.0,42.1 C186.8,46.4 191.6,50.9 196.4,55.6 C201.2,60.3 206.0,65.1 210.7,70.2 C215.5,75.2 220.3,80.5 225.1,85.9 C229.9,91.4 234.6,97.0 239.4,102.9 C244.2,108.7 249.0,114.8 253.8,121.1 C258.6,127.4 263.3,134.0 268.1,140.7 C272.9,147.5 277.7,154.5 282.5,161.8 C287.2,169.0 292.0,176.5 296.8,184.3 C301.6,192.1 306.4,200.1 311.2,208.5 C315.9,216.8 320.7,225.4 325.5,234.3 C330.3,243.2 335.1,252.3 339.9,261.9 C344.6,271.5 351.8,287.0 354.2,292.0 C353.8,292.6 353.5,294.2 352.0,295.5 C350.5,296.8 346.9,298.2 345.4,299.9 C343.9,301.6 343.6,303.6 343.2,305.5 C342.8,307.4 342.8,309.2 342.9,311.0 C343.0,312.8 343.6,315.6 343.7,316.5 L342.6,315.8 C340.5,315.4 334.4,314.4 330.2,313.5 C326.1,312.6 322.0,311.5 317.9,310.2 C313.7,308.9 309.6,307.5 305.5,305.9 C301.4,304.3 297.2,302.5 293.1,300.6 C289.0,298.6 284.9,296.6 280.7,294.3 C276.6,292.1 272.5,289.7 268.4,287.1 C264.2,284.6 260.1,281.9 256.0,279.0 C251.9,276.1 247.7,273.1 243.6,269.9 C239.5,266.7 235.4,263.4 231.2,259.9 C227.1,256.4 223.0,252.8 218.9,249.0 C214.7,245.2 210.6,241.2 206.5,237.1 C202.4,233.0 198.2,228.7 194.1,224.3 C190.0,219.9 185.9,215.3 181.7,210.5 C177.6,205.8 173.5,200.9 169.4,195.8 C165.2,190.7 161.1,185.5 157.0,180.1 C152.9,174.7 148.7,169.2 144.6,163.5 C140.5,157.8 136.4,151.9 132.2,145.9 C128.1,139.8 124.0,133.6 119.9,127.3 C115.7,120.9 111.6,114.4 107.5,107.7 C103.4,101.0 99.2,94.1 95.1,87.1 C91.0,80.1 86.9,72.9 82.7,65.6 C78.6,58.2 74.5,50.7 70.4,43.1 C66.2,35.4 60.1,23.5 58.0,19.6 L57.8,7.6 Z" class="rg"/>
<path d="M57.8,7.6 H367.59999999999997 V317.3 L344.5,317.3 C340.8,317.0 329.8,316.3 322.4,315.5 C315.1,314.7 307.7,313.8 300.4,312.5 C293.0,311.1 285.7,309.4 278.3,307.4 C271.0,305.4 263.6,303.1 256.3,300.6 C248.9,298.0 241.6,295.2 234.2,292.3 C226.9,289.3 219.5,286.1 212.2,282.7 C204.8,279.3 197.5,275.8 190.1,272.0 C182.8,268.2 175.4,264.3 168.1,260.2 C160.7,256.1 153.4,251.8 146.0,247.2 C138.7,242.7 131.3,238.0 124.0,233.0 C116.6,228.0 109.3,222.8 101.9,217.3 C94.6,211.8 87.2,206.0 79.9,199.8 C72.5,193.6 61.5,183.2 57.8,179.9 Z" class="ol"/>
<rect x="51.5" y="0.6" width="323.5" height="322.7" fill="none" stroke="#5f5f5f" stroke-width="1.3"/>
<path d="M57.80,323.3v-4.0M57.80,0.6v4.0M70.18,323.3v-2.5M70.18,0.6v2.5M82.57,323.3v-2.5M82.57,0.6v2.5M94.95,323.3v-2.5M94.95,0.6v2.5M107.34,323.3v-2.5M107.34,0.6v2.5M119.72,323.3v-4.0M119.72,0.6v4.0M132.10,323.3v-2.5M132.10,0.6v2.5M144.49,323.3v-2.5M144.49,0.6v2.5M156.87,323.3v-2.5M156.87,0.6v2.5M169.26,323.3v-2.5M169.26,0.6v2.5M181.64,323.3v-4.0M181.64,0.6v4.0M194.02,323.3v-2.5M194.02,0.6v2.5M206.41,323.3v-2.5M206.41,0.6v2.5M218.79,323.3v-2.5M218.79,0.6v2.5M231.18,323.3v-2.5M231.18,0.6v2.5M243.56,323.3v-4.0M243.56,0.6v4.0M255.94,323.3v-2.5M255.94,0.6v2.5M268.33,323.3v-2.5M268.33,0.6v2.5M280.71,323.3v-2.5M280.71,0.6v2.5M293.10,323.3v-2.5M293.10,0.6v2.5M305.48,323.3v-4.0M305.48,0.6v4.0M317.86,323.3v-2.5M317.86,0.6v2.5M330.25,323.3v-2.5M330.25,0.6v2.5M342.63,323.3v-2.5M342.63,0.6v2.5M355.02,323.3v-2.5M355.02,0.6v2.5M367.40,323.3v-4.0M367.40,0.6v4.0M51.5,7.60h4.0M375.0,7.60h-4.0M51.5,20.50h2.5M375.0,20.50h-2.5M51.5,33.41h2.5M375.0,33.41h-2.5M51.5,46.31h2.5M375.0,46.31h-2.5M51.5,59.22h4.0M375.0,59.22h-4.0M51.5,72.12h2.5M375.0,72.12h-2.5M51.5,85.02h2.5M375.0,85.02h-2.5M51.5,97.93h2.5M375.0,97.93h-2.5M51.5,110.83h4.0M375.0,110.83h-4.0M51.5,123.74h2.5M375.0,123.74h-2.5M51.5,136.64h2.5M375.0,136.64h-2.5M51.5,149.55h2.5M375.0,149.55h-2.5M51.5,162.45h4.0M375.0,162.45h-4.0M51.5,175.35h2.5M375.0,175.35h-2.5M51.5,188.26h2.5M375.0,188.26h-2.5M51.5,201.16h2.5M375.0,201.16h-2.5M51.5,214.07h4.0M375.0,214.07h-4.0M51.5,226.97h2.5M375.0,226.97h-2.5M51.5,239.88h2.5M375.0,239.88h-2.5M51.5,252.78h2.5M375.0,252.78h-2.5M51.5,265.68h4.0M375.0,265.68h-4.0M51.5,278.59h2.5M375.0,278.59h-2.5M51.5,291.49h2.5M375.0,291.49h-2.5M51.5,304.40h2.5M375.0,304.40h-2.5M51.5,317.30h4.0M375.0,317.30h-4.0" stroke="#5f5f5f" stroke-width="1.05" fill="none"/>
<text x="57.8" y="336.90000000000003" class="tk" text-anchor="middle">0.5</text>
<text x="119.7" y="336.90000000000003" class="tk" text-anchor="middle">0.6</text>
<text x="181.6" y="336.90000000000003" class="tk" text-anchor="middle">0.7</text>
<text x="243.6" y="336.90000000000003" class="tk" text-anchor="middle">0.8</text>
<text x="305.5" y="336.90000000000003" class="tk" text-anchor="middle">0.9</text>
<text x="367.4" y="336.90000000000003" class="tk" text-anchor="middle">1.0</text>
<text x="47.2" y="320.8" class="tk" text-anchor="end">0.00</text>
<text x="47.2" y="269.2" class="tk" text-anchor="end">0.02</text>
<text x="47.2" y="217.6" class="tk" text-anchor="end">0.04</text>
<text x="47.2" y="166.0" class="tk" text-anchor="end">0.06</text>
<text x="47.2" y="114.3" class="tk" text-anchor="end">0.08</text>
<text x="47.2" y="62.7" class="tk" text-anchor="end">0.10</text>
<text x="47.2" y="11.1" class="tk" text-anchor="end">0.12</text>
<text transform="translate(14.9,161.7) rotate(-90)" class="ax" text-anchor="middle" style="font-size:19.5px">k</text>
<text x="212" y="364.4" class="ax" text-anchor="middle" style="font-size:20px" font-style="italic">β</text>
<text x="241.5" y="39.60000000000002" class="lb" >Only ES is</text><text x="241.5" y="59.400000000000034" class="lb" >feasible</text>
<text x="64.09999999999997" y="123.40000000000003" class="lb" font-style="italic" style="font-size:13px">k</text><text x="71.7" y="117.3" class="lb sc">PS'</text><text x="71.0" y="129.3" class="lb sc">min</text>
<text x="98.39999999999998" y="252.3" class="lb" font-style="italic" style="font-size:13px">k</text><text x="106.0" y="246.2" class="lb sc">ES'</text><text x="105.3" y="258.2" class="lb sc">min</text>
<text x="282.9" y="131.8" class="lb" font-style="italic" style="font-size:13px">k</text><text x="290.5" y="125.7" class="lb sc">PS'</text><text x="289.8" y="137.7" class="lb sc">max</text>
<text x="70.89999999999998" y="185.8" class="lb" font-style="italic" style="font-size:14px">π</text><text x="80.5" y="180.8" class="lb" style="font-size:12px">ES</text><text x="78.5" y="191.8" class="lb" font-style="italic" style="font-size:13.5px">g</text><text x="101.5" y="186.0" class="lb" style="font-size:10.5px">&gt;</text><text x="112.69999999999997" y="185.8" class="lb" font-style="italic" style="font-size:14px">π</text><text x="122.3" y="180.8" class="lb" style="font-size:12px">PS</text><text x="120.3" y="191.8" class="lb" font-style="italic" style="font-size:13.5px">g</text>
<text x="172.10000000000002" y="151.50000000000006" class="lb" font-style="italic" style="font-size:14px">π</text><text x="181.7" y="146.5" class="lb" style="font-size:12px">ES</text><text x="179.7" y="157.5" class="lb" font-style="italic" style="font-size:13.5px">g</text><text x="202.7" y="151.7" class="lb" style="font-size:10.5px">&lt;</text><text x="213.90000000000003" y="151.50000000000006" class="lb" font-style="italic" style="font-size:14px">π</text><text x="223.5" y="146.5" class="lb" style="font-size:12px">PS</text><text x="221.5" y="157.5" class="lb" font-style="italic" style="font-size:13.5px">g</text>
<text x="109.39999999999998" y="47.900000000000034" class="lb" font-style="italic" style="font-size:13.5px">λ</text><text x="116.2" y="51.9" class="lb" font-style="italic" style="font-size:12.5px">m</text><text x="133.6" y="47.900000000000034" class="lb" style="font-size:12px">=</text><text x="142.7" y="47.900000000000034" class="lb">1</text>
<text x="129.69999999999993" y="72.60000000000002" class="lb" font-style="italic" style="font-size:13.5px">λ</text><text x="136.5" y="76.6" class="lb" font-style="italic" style="font-size:12.5px">m</text><text x="153.9" y="72.60000000000002" class="lb" style="font-size:12px">=</text><text x="163.0" y="72.60000000000002" class="lb">2</text>
<line x1="106.1" y1="52.5" x2="93.6" y2="59.3" stroke="#1a1a1a" stroke-width="1.2"/><path d="M86.3,63.2 L95.0,54.5 L95.6,58.2 L98.3,60.7 Z" fill="#111"/>
<line x1="150.5" y1="40.9" x2="158.1" y2="34.6" stroke="#1a1a1a" stroke-width="1.2"/><path d="M164.5,29.4 L157.6,39.6 L156.3,36.1 L153.2,34.2 Z" fill="#111"/>
<line x1="123.9" y1="75.3" x2="94.2" y2="87.4" stroke="#1a1a1a" stroke-width="1.2"/><path d="M86.5,90.5 L96.1,82.8 L96.3,86.5 L98.7,89.3 Z" fill="#111"/>
<line x1="173.4" y1="63.7" x2="194.7" y2="49.3" stroke="#1a1a1a" stroke-width="1.2"/><path d="M201.6,44.7 L193.8,54.2 L192.8,50.6 L189.9,48.4 Z" fill="#111"/>
<text x="144.4" y="400.7" class="cap">(d)</text><text x="171.4" y="400.7" class="capi">τ</text><text x="185.1" y="400.7" class="cap">=</text><text x="201.6" y="400.7" class="cap">2</text><text x="208.9" y="400.7" class="cap">,</text><text x="219.4" y="400.7" class="capi">μ</text><text x="226.9" y="404.3" class="capi" style="font-size:12.6px">γ</text><text x="242.5" y="400.7" class="cap">=</text><text x="258.7" y="400.7" class="cap">0.8</text></g>
</svg></body></html>
